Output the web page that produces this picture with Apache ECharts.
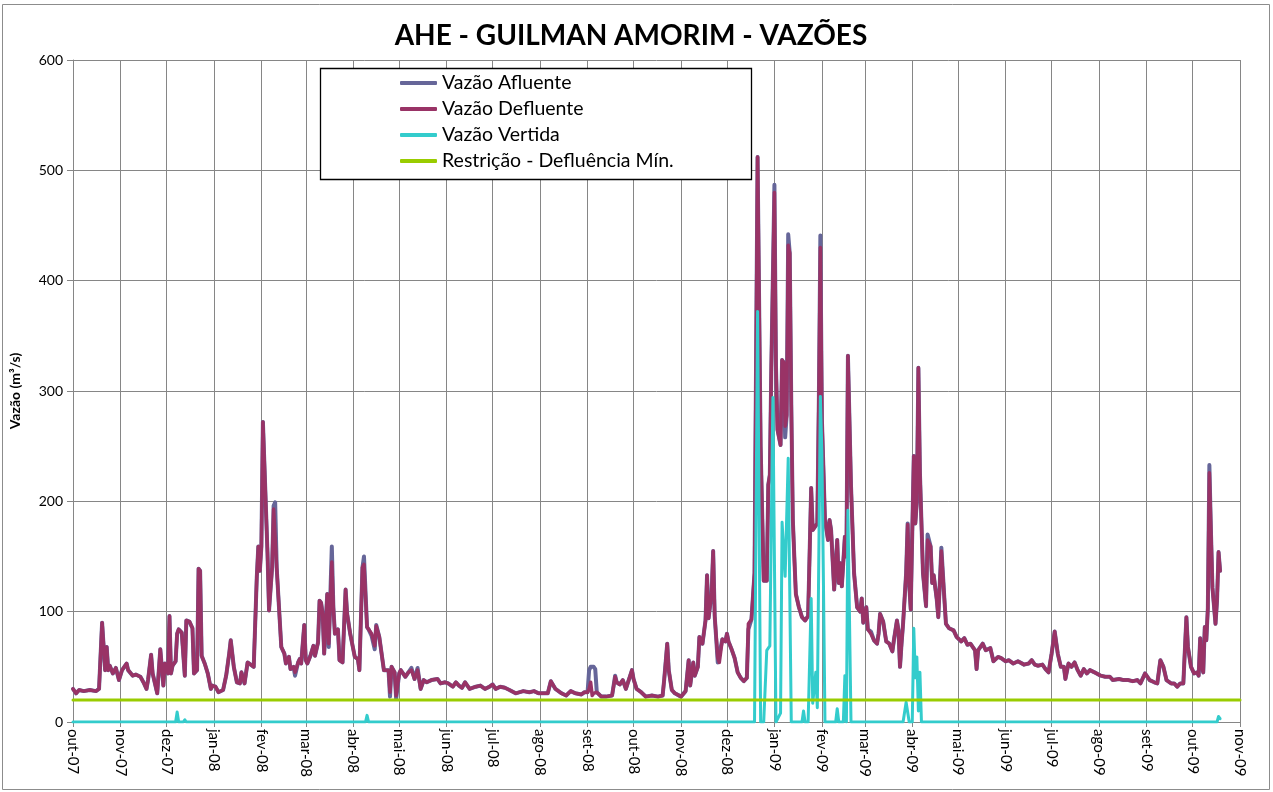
<!DOCTYPE html>
<html><head><meta charset="utf-8">
<script src="https://cdn.jsdelivr.net/npm/echarts@6/dist/echarts.min.js"></script>
<style>html,body{margin:0;padding:0;background:#fff}#c{width:1273px;height:792px}</style>
</head><body><div id="c"></div>
<script>
// ---- data (m³/s) ----
const dates = [
'2007-10-01','2007-10-03','2007-10-05','2007-10-08','2007-10-12','2007-10-16','2007-10-18','2007-10-20','2007-10-22','2007-10-23','2007-10-24','2007-10-25','2007-10-27','2007-10-29','2007-10-31',
'2007-11-02','2007-11-05','2007-11-06','2007-11-09','2007-11-11','2007-11-14','2007-11-16','2007-11-18','2007-11-19','2007-11-21','2007-11-22','2007-11-25','2007-11-27','2007-11-29','2007-11-30',
'2007-12-02','2007-12-03','2007-12-04','2007-12-05','2007-12-07','2007-12-08','2007-12-09','2007-12-11','2007-12-12','2007-12-13','2007-12-14','2007-12-16','2007-12-18','2007-12-19','2007-12-21','2007-12-22','2007-12-23','2007-12-24','2007-12-26','2007-12-28','2007-12-30','2007-12-31',
'2008-01-02','2008-01-04','2008-01-07','2008-01-09','2008-01-11','2008-01-12','2008-01-14','2008-01-16','2008-01-18','2008-01-19','2008-01-21','2008-01-23','2008-01-27','2008-01-29','2008-01-30','2008-01-31','2008-02-01',
'2008-02-02','2008-02-05','2008-02-06','2008-02-08','2008-02-09','2008-02-10','2008-02-11','2008-02-12','2008-02-14','2008-02-16','2008-02-17','2008-02-19','2008-02-20','2008-02-22','2008-02-23','2008-02-25','2008-02-26','2008-02-27','2008-02-29','2008-03-01','2008-03-02',
'2008-03-04','2008-03-06','2008-03-07','2008-03-09','2008-03-10','2008-03-11','2008-03-12','2008-03-13','2008-03-15','2008-03-16','2008-03-18','2008-03-19','2008-03-20','2008-03-22','2008-03-23','2008-03-25','2008-03-27','2008-03-28','2008-03-30','2008-04-02',
'2008-04-04','2008-04-05','2008-04-07','2008-04-08','2008-04-10','2008-04-11','2008-04-13','2008-04-15','2008-04-16','2008-04-18','2008-04-21','2008-04-22','2008-04-24','2008-04-25','2008-04-26','2008-04-28','2008-04-29','2008-05-01','2008-05-02',
'2008-05-05','2008-05-07','2008-05-09','2008-05-11','2008-05-13','2008-05-15','2008-05-17','2008-05-19','2008-05-22','2008-05-26','2008-05-28','2008-05-31','2008-06-02',
'2008-06-05','2008-06-07','2008-06-09','2008-06-11','2008-06-13','2008-06-16','2008-06-20','2008-06-23','2008-06-26','2008-06-29','2008-07-01',
'2008-07-03','2008-07-06','2008-07-09','2008-07-12','2008-07-16','2008-07-21','2008-07-25','2008-07-28','2008-07-31',
'2008-08-03','2008-08-06','2008-08-08','2008-08-11','2008-08-15','2008-08-18','2008-08-21','2008-08-24','2008-08-28','2008-08-30','2008-09-01','2008-09-02',
'2008-09-03','2008-09-04','2008-09-05','2008-09-06','2008-09-07','2008-09-10','2008-09-13','2008-09-17','2008-09-19','2008-09-20','2008-09-22','2008-09-24','2008-09-26','2008-09-30','2008-10-01','2008-10-03',
'2008-10-06','2008-10-09','2008-10-13','2008-10-17','2008-10-20','2008-10-21','2008-10-23','2008-10-24','2008-10-26','2008-10-28','2008-11-01',
'2008-11-04','2008-11-06','2008-11-07','2008-11-09','2008-11-10','2008-11-12','2008-11-13','2008-11-15','2008-11-17','2008-11-18','2008-11-19','2008-11-21','2008-11-22','2008-11-23','2008-11-25','2008-11-26','2008-11-28','2008-11-30','2008-12-01','2008-12-02',
'2008-12-04','2008-12-06','2008-12-08','2008-12-10','2008-12-12','2008-12-14','2008-12-15','2008-12-17','2008-12-19','2008-12-21','2008-12-23','2008-12-25','2008-12-27','2008-12-28','2008-12-29','2008-12-30','2009-01-01','2009-01-02','2009-01-03',
'2009-01-05','2009-01-06','2009-01-07','2009-01-08','2009-01-09','2009-01-10','2009-01-11','2009-01-12','2009-01-13','2009-01-14','2009-01-15','2009-01-17','2009-01-19','2009-01-21','2009-01-23','2009-01-25','2009-01-26','2009-01-27','2009-01-29','2009-01-30','2009-01-31','2009-02-01','2009-02-03',
'2009-02-05','2009-02-06','2009-02-07','2009-02-09','2009-02-11','2009-02-12','2009-02-13','2009-02-14','2009-02-16','2009-02-17','2009-02-18','2009-02-20','2009-02-22','2009-02-24','2009-02-26','2009-02-27','2009-02-28','2009-03-02','2009-03-03',
'2009-03-05','2009-03-07','2009-03-09','2009-03-10','2009-03-11','2009-03-13','2009-03-15','2009-03-17','2009-03-19','2009-03-20','2009-03-22','2009-03-23','2009-03-24','2009-03-25','2009-03-26','2009-03-28','2009-03-29','2009-03-30','2009-03-31','2009-04-01','2009-04-02','2009-04-03','2009-04-04',
'2009-04-05','2009-04-06','2009-04-08','2009-04-10','2009-04-11','2009-04-13','2009-04-14','2009-04-15','2009-04-17','2009-04-18','2009-04-20','2009-04-22','2009-04-23','2009-04-25','2009-04-28','2009-04-30','2009-05-03',
'2009-05-05','2009-05-07','2009-05-09','2009-05-12','2009-05-13','2009-05-14','2009-05-17','2009-05-19','2009-05-22','2009-05-24','2009-05-27','2009-05-29','2009-06-01','2009-06-03',
'2009-06-06','2009-06-09','2009-06-13','2009-06-16','2009-06-18','2009-06-20','2009-06-22','2009-06-25','2009-06-27','2009-06-29','2009-07-01','2009-07-03',
'2009-07-05','2009-07-07','2009-07-09','2009-07-10','2009-07-12','2009-07-14','2009-07-16','2009-07-18','2009-07-20','2009-07-22','2009-07-24','2009-07-26','2009-07-29','2009-08-02',
'2009-08-05','2009-08-08','2009-08-10','2009-08-14','2009-08-17','2009-08-20','2009-08-23','2009-08-26','2009-08-28','2009-08-31','2009-09-03',
'2009-09-06','2009-09-08','2009-09-10','2009-09-12','2009-09-14','2009-09-17','2009-09-19','2009-09-21','2009-09-23','2009-09-25','2009-09-27','2009-09-28','2009-09-30','2009-10-02','2009-10-04',
'2009-10-05','2009-10-06','2009-10-07','2009-10-08','2009-10-09','2009-10-10','2009-10-11','2009-10-12','2009-10-13','2009-10-14','2009-10-16','2009-10-17','2009-10-18','2009-10-19'
];
const afluente = [
30,26,29,28,29,28,30,90,47,68,47,51,44,49,38,
47,53,47,42,43,41,36,30,38,61,44,26,66,33,53,
44,96,44,51,55,80,84,81,82,42,92,91,85,44,47,139,137,60,53,44,30,33,
32,27,29,42,62,74,50,36,35,45,35,54,50,131,159,137,159,
272,153,101,140,196,199,140,116,68,62,53,59,48,50,42,54,57,53,88,56,53,
60,69,60,72,110,108,98,62,116,68,159,104,80,84,56,54,120,98,80,59,
57,47,140,150,86,84,78,66,88,77,47,48,47,23,50,45,21,44,47,
41,45,49,39,49,30,38,36,38,39,35,36,35,
32,36,33,31,36,30,32,33,30,32,34,
30,32,31,29,26,28,27,28,26,
26,26,37,30,26,24,28,26,25,27,27,47,
50,50,50,48,27,23,23,24,42,36,34,38,30,47,39,30,
27,23,24,23,24,38,71,47,29,26,23,
28,56,33,54,42,50,77,71,92,133,94,117,155,96,54,54,75,73,80,73,
66,58,45,40,37,40,84,93,135,512,250,128,128,215,224,323,487,323,265,
251,328,326,258,278,442,425,288,184,149,116,104,95,92,96,212,174,176,180,290,441,274,183,
165,183,174,120,165,126,144,123,168,150,332,214,135,104,100,112,90,104,84,
82,74,71,80,98,91,73,71,64,74,92,83,50,71,89,135,180,125,102,103,241,180,200,
321,226,135,105,170,159,126,133,111,95,158,111,89,85,83,77,73,
76,70,71,65,48,65,71,65,67,55,59,58,55,56,
53,55,52,53,56,52,51,52,48,45,62,82,
62,50,50,39,53,50,54,47,42,48,44,47,45,42,
41,41,38,39,38,38,37,38,35,44,38,
36,35,56,50,38,35,35,32,35,35,95,68,50,44,45,
42,76,50,45,86,74,103,233,174,122,89,110,154,137
];
const defluente = [
30,26,29,28,29,28,30,90,47,68,47,51,44,49,38,
47,53,47,42,43,41,36,30,38,61,44,26,66,33,53,
44,96,44,51,55,80,84,81,82,42,92,91,85,44,47,139,137,60,53,44,30,33,
32,27,29,42,62,74,50,36,35,45,35,54,50,131,159,137,159,
272,153,101,140,193,193,140,116,68,62,53,59,48,50,45,54,57,53,88,56,53,
60,69,60,72,110,108,98,62,116,71,145,104,80,84,56,54,120,98,80,59,
57,47,140,143,86,84,80,69,87,77,47,48,47,27,50,45,24,44,47,
41,45,47,39,47,30,38,36,38,39,35,36,35,
32,36,33,31,36,30,32,33,30,32,34,
30,32,31,29,26,28,27,28,26,
26,26,37,30,26,24,28,26,25,27,27,30,
36,24,26,25,27,23,23,24,41,36,34,38,30,47,39,30,
27,23,24,23,24,38,71,47,29,26,23,
28,56,33,54,42,50,77,71,92,133,94,117,155,96,58,54,75,73,80,73,
66,58,45,40,37,40,89,93,135,512,250,128,128,215,224,323,480,323,265,
251,328,326,268,278,432,425,288,184,149,116,104,95,92,96,212,174,176,180,290,430,274,183,
165,183,174,120,165,126,144,123,168,150,332,214,135,104,100,112,90,104,84,
80,74,71,80,98,91,73,71,64,74,92,83,50,71,89,135,179,125,102,103,241,180,200,
321,226,135,105,165,159,126,133,111,95,155,111,89,85,83,77,73,
76,70,71,65,48,65,71,65,67,55,59,58,55,56,
53,55,52,53,56,52,51,52,48,45,62,82,
62,50,50,39,53,50,54,47,42,48,44,47,45,42,
41,41,38,39,38,38,37,38,35,44,38,
36,35,56,50,38,35,35,32,35,35,95,68,50,44,45,
42,76,50,45,86,74,103,226,174,122,89,110,154,137
];
const vertidaDates = [
'2007-10-01','2007-12-07','2007-12-08','2007-12-09','2007-12-12','2007-12-13','2007-12-14',
'2008-04-09','2008-04-10','2008-04-11',
'2008-12-19','2008-12-21','2008-12-23','2008-12-25','2008-12-27','2008-12-29','2008-12-31','2009-01-02',
'2009-01-05','2009-01-06','2009-01-08','2009-01-10','2009-01-12','2009-01-19','2009-01-20','2009-01-21','2009-01-23',
'2009-01-25','2009-01-26','2009-01-27','2009-01-28','2009-01-29','2009-01-31','2009-02-01','2009-02-02','2009-02-03',
'2009-02-10','2009-02-11','2009-02-12','2009-02-15','2009-02-16','2009-02-17','2009-02-18','2009-02-20',
'2009-03-26','2009-03-28','2009-03-30','2009-04-01','2009-04-02','2009-04-03','2009-04-04','2009-04-05','2009-04-06','2009-04-07',
'2009-10-17','2009-10-18','2009-10-19'
];
const vertida = [
0,0,9,0,0,2,0,
0,6,0,
0,372,0,0,65,69,294,0,
8,181,132,239,0,0,10,0,0,
112,17,17,45,13,295,244,127,0,
0,12,0,0,42,0,192,0,
0,18,0,0,85,40,59,10,45,0,
0,5,3
];
const restricaoMin = 20;
const xStart = '2007-10-01', xEnd = '2009-11-01';
const yTicks = {min: 0, max: 600, step: 100};
const mesesPt = ['jan','fev','mar','abr','mai','jun','jul','ago','set','out','nov','dez'];
const nomes = ['Vazão Afluente','Vazão Defluente','Vazão Vertida','Restrição - Defluência Mín.'];
const cores = ['#666699','#993366','#33CCCC','#99CC00'];

// ---- chart ----
const FONT = 'Lato';
const pairs = (ds, vs) => ds.map((d, i) => [d, vs[i]]);
const parse = s => { const p = s.split('-').map(Number); return new Date(p[0], p[1]-1, p[2]).getTime(); };
const chart = echarts.init(document.getElementById('c'));
const lineStyle = (c, w) => ({color: c, width: w, cap: 'round', join: 'round'});
chart.setOption({
  animation: false,
  backgroundColor: '#fff',
  textStyle: {fontFamily: FONT},
  grid: {left: 72, right: 33, top: 60, bottom: 70, containLabel: false},
  graphic: [
    {type: 'rect', silent: true, z: 0, shape: {x: 2.5, y: 4.5, width: 1267, height: 785},
     style: {fill: 'none', stroke: '#8c8c8c', lineWidth: 1}},
    {type: 'rect', silent: true, z: 3, shape: {x: 320.5, y: 68.5, width: 431, height: 111},
     style: {fill: '#fff', stroke: '#000', lineWidth: 1.3}},
    {type: 'text', silent: true, z: 5, x: 631, y: 36,
     style: {text: 'AHE - GUILMAN AMORIM - VAZÕES', font: 'bold 28px Lato', fill: '#000',
             textAlign: 'center', textVerticalAlign: 'middle'}}
  ],
  legend: {
    orient: 'vertical', left: 395, top: 68, padding: 5,
    itemWidth: 37, itemHeight: 4, itemGap: 6, icon: 'roundRect',
    textStyle: {fontFamily: FONT, fontSize: 19.5, color: '#000', lineHeight: 20},
    data: nomes, z: 4
  },
  xAxis: {
    type: 'time', min: parse(xStart), max: parse(xEnd), splitNumber: 25,
    axisLine: {show: true, lineStyle: {color: '#868686', width: 1}},
    axisTick: {show: true, length: 5, lineStyle: {color: '#868686'}},
    splitLine: {show: true, lineStyle: {color: '#868686', width: 1}},
    axisLabel: {
      rotate: -90, fontSize: 15, color: '#000', margin: 7, fontFamily: FONT,
      showMinLabel: true, showMaxLabel: true, hideOverlap: false,
      formatter: v => { const d = new Date(v); return mesesPt[d.getMonth()] + '-' + String(d.getFullYear()).slice(2); }
    }
  },
  yAxis: {
    type: 'value', min: yTicks.min, max: yTicks.max, interval: yTicks.step,
    name: 'Vazão (m³/s)', nameLocation: 'middle', nameGap: 51, nameRotate: 90,
    nameTextStyle: {fontFamily: FONT, fontWeight: 'bold', fontSize: 14, color: '#000'},
    axisLine: {show: true, lineStyle: {color: '#868686', width: 1}},
    axisTick: {show: true, length: 6, lineStyle: {color: '#868686'}},
    splitLine: {show: true, lineStyle: {color: '#868686', width: 1}},
    axisLabel: {fontSize: 14, color: '#000', margin: 10, fontFamily: FONT}
  },
  series: [
    {name: nomes[0], type: 'line', data: pairs(dates, afluente), showSymbol: false, z: 2,
     itemStyle: {color: cores[0]}, lineStyle: lineStyle(cores[0], 4)},
    {name: nomes[1], type: 'line', data: pairs(dates, defluente), showSymbol: false, z: 2,
     itemStyle: {color: cores[1]}, lineStyle: lineStyle(cores[1], 3.5)},
    {name: nomes[2], type: 'line', data: pairs(vertidaDates, vertida), showSymbol: false, z: 2,
     itemStyle: {color: cores[2]}, lineStyle: lineStyle(cores[2], 3)},
    {name: nomes[3], type: 'line', data: [[xStart, restricaoMin], [xEnd, restricaoMin]], showSymbol: false, z: 2,
     itemStyle: {color: cores[3]}, lineStyle: lineStyle(cores[3], 3)}
  ]
});
</script></body></html>
